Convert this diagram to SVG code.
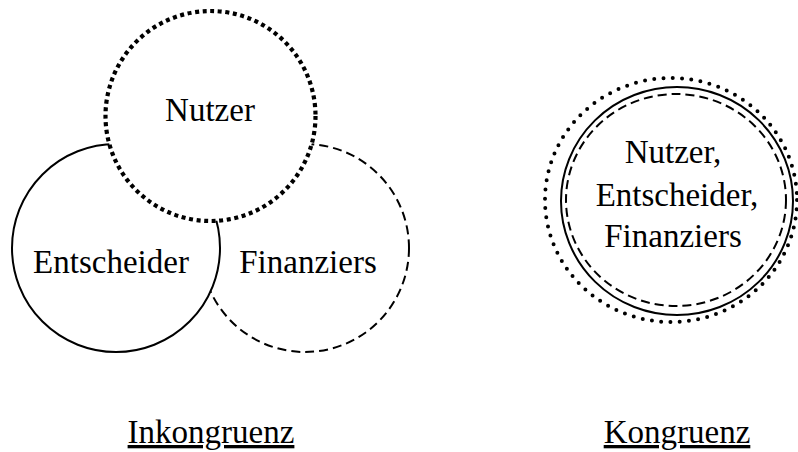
<svg xmlns="http://www.w3.org/2000/svg" width="798" height="452" viewBox="0 0 798 452">
<style>
.t{font-family:'Liberation Serif','Times New Roman',serif;font-size:33px;fill:#000;text-anchor:middle}
.u{text-decoration:underline}
.solid{fill:#fff;stroke:#000;stroke-width:2}
.dash{fill:#fff;stroke:#000;stroke-width:2;stroke-dasharray:9 5}
.sq{fill:#fff;stroke:#000;stroke-width:4.2;stroke-dasharray:4 3.6}
.dots{fill:none;stroke:#000;stroke-width:4;stroke-linecap:round;stroke-dasharray:0 9.3}
</style>
<rect width="798" height="452" fill="#fff"/>
<g id="finanziers">
<circle class="dash" cx="305" cy="248" r="104"/>
<text class="t" x="308" y="273">Finanziers</text>
</g>
<g id="entscheider">
<circle class="solid" cx="116" cy="248" r="104"/>
<text class="t" x="111" y="273">Entscheider</text>
</g>
<g id="nutzer">
<circle class="sq" cx="210.5" cy="116" r="105"/>
<text class="t" x="210" y="121">Nutzer</text>
</g>
<g id="kongruenz-circle">
<ellipse class="dots" cx="671" cy="200" rx="126" ry="122"/>
<ellipse class="solid" style="fill:none" cx="677" cy="201" rx="116" ry="114"/>
<ellipse class="dash" style="fill:none" cx="676" cy="200" rx="110" ry="106"/>
<text class="t" x="673" y="163">Nutzer,</text>
<text class="t" x="677" y="206">Entscheider,</text>
<text class="t" x="673" y="247">Finanziers</text>
</g>
<g id="labels">
<text class="t u" x="211" y="443">Inkongruenz</text>
<text class="t u" x="677" y="443">Kongruenz</text>
</g>
</svg>
